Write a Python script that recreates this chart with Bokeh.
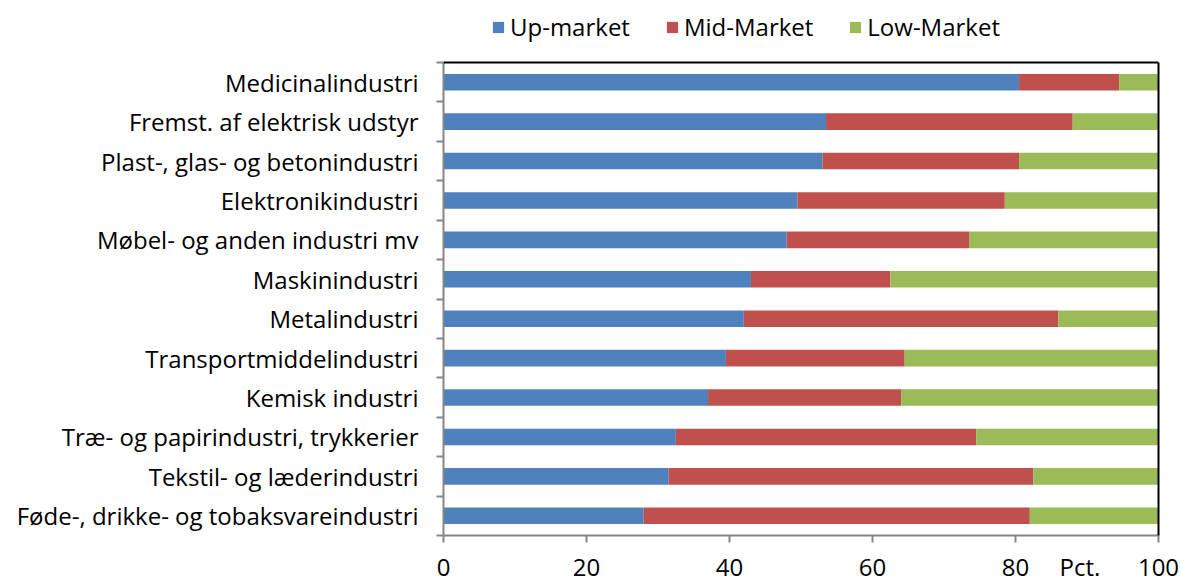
from bokeh.plotting import figure
from bokeh.models import (ColumnDataSource, FixedTicker, LinearAxis, Legend, LegendItem, Range1d, Span)
from bokeh.embed import file_html
from bokeh.resources import INLINE

categories = [
    "Føde-, drikke- og tobaksvareindustri",
    "Tekstil- og læderindustri",
    "Træ- og papirindustri, trykkerier",
    "Kemisk industri",
    "Transportmiddelindustri",
    "Metalindustri",
    "Maskinindustri",
    "Møbel- og anden industri mv",
    "Elektronikindustri",
    "Plast-, glas- og betonindustri",
    "Fremst. af elektrisk udstyr",
    "Medicinalindustri",
]
up_market = [28.0, 31.5, 32.5, 37.0, 39.5, 42.0, 43.0, 48.0, 49.5, 53.0, 53.5, 80.5]
mid_market = [54.0, 51.0, 42.0, 27.0, 25.0, 44.0, 19.5, 25.5, 29.0, 27.5, 34.5, 14.0]
low_market = [18.0, 17.5, 25.5, 36.0, 35.5, 14.0, 37.5, 26.5, 21.5, 19.5, 12.0, 5.5]
series_names = ["Up-market", "Mid-Market", "Low-Market"]
colors = ["#4F81BD", "#C0504D", "#9BBB59"]
x_ticks = [0, 20, 40, 60, 80, 100]
x_unit_label = "Pct."
x_unit_pos = 89

FONT = "Open Sans"
FS = "24px"
n = len(categories)
ys = list(range(n))
source = ColumnDataSource(dict(y=ys, up=up_market, mid=mid_market, low=low_market))

top_extra = 62 / (473 / n)  # room above the categories for the legend
p = figure(width=1181, height=585, output_backend="svg", toolbar_location=None,
           x_range=Range1d(0, 100), y_range=Range1d(-0.5, n - 0.5 + top_extra),
           min_border_left=443, min_border_right=23, min_border_top=0, min_border_bottom=50,
           x_axis_location=None, y_axis_location=None)
p.grid.grid_line_color = None
p.outline_line_color = None
p.background_fill_color = "white"

rs = p.hbar_stack(["up", "mid", "low"], y="y", height=0.42, color=colors,
                  line_color=None, source=source)

# bottom axis: tick marks as minor ticks, labels (incl. unit) as major ticks
xa = LinearAxis(ticker=FixedTicker(ticks=x_ticks + [x_unit_pos], minor_ticks=x_ticks))
xa.major_label_overrides = {x_unit_pos: x_unit_label}
xa.axis_line_color = "#868686"
xa.axis_line_width = 2
xa.major_tick_line_color = None
xa.major_tick_out = 7
xa.major_tick_in = 0
xa.minor_tick_line_color = "#868686"
xa.minor_tick_line_width = 2
xa.minor_tick_out = 7
xa.minor_tick_in = 0
xa.major_label_text_font = FONT
xa.major_label_text_font_size = FS
xa.major_label_text_color = "black"
xa.major_label_standoff = 7
p.add_layout(xa, "below")

# left axis with category labels, boundary ticks
ya = LinearAxis(ticker=FixedTicker(ticks=ys, minor_ticks=[i - 0.5 for i in range(n + 1)]),
                bounds=(-0.5, n - 0.5))
ya.major_label_overrides = {i: c for i, c in enumerate(categories)}
ya.axis_line_color = "#868686"
ya.axis_line_width = 2
ya.major_tick_line_color = None
ya.major_tick_out = 0
ya.major_tick_in = 0
ya.minor_tick_line_color = "#868686"
ya.minor_tick_line_width = 2
ya.minor_tick_out = 7
ya.minor_tick_in = 0
ya.major_label_text_font = FONT
ya.major_label_text_font_size = FS
ya.major_label_text_color = "black"
ya.major_label_standoff = 18
p.add_layout(ya, "left")

# right and top frame lines
ra = LinearAxis(ticker=FixedTicker(ticks=[]), bounds=(-0.5, n - 0.5))
ra.axis_line_color = "black"
ra.axis_line_width = 2
ra.major_tick_line_color = None
ra.minor_tick_line_color = None
ra.major_label_text_font_size = "0px"
p.add_layout(ra, "right")
p.add_layout(Span(location=n - 0.5, dimension="width", line_color="black", line_width=2))

legend = Legend(items=[LegendItem(label=s, renderers=[r]) for s, r in zip(series_names, rs)],
                orientation="horizontal", location=(48, 492))
legend.label_text_font = FONT
legend.label_text_font_size = FS
legend.label_text_color = "black"
legend.glyph_width = 14
legend.glyph_height = 14
legend.label_standoff = 5
legend.spacing = 35
legend.padding = 0
legend.margin = 0
legend.border_line_color = None
legend.background_fill_alpha = 0
p.add_layout(legend, "center")

open("out.html", "w").write(file_html(p, INLINE))
